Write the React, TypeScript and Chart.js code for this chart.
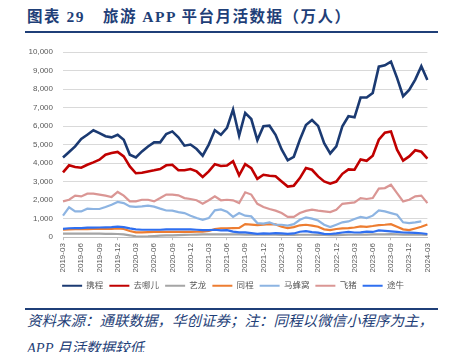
import React, { useEffect, useRef } from "react";
import { Chart, registerables } from "chart.js";

Chart.register(...registerables);

const months: string[] = [
  "2019-03","2019-04","2019-05","2019-06","2019-07","2019-08","2019-09","2019-10","2019-11","2019-12",
  "2020-01","2020-02","2020-03","2020-04","2020-05","2020-06","2020-07","2020-08","2020-09","2020-10","2020-11","2020-12",
  "2021-01","2021-02","2021-03","2021-04","2021-05","2021-06","2021-07","2021-08","2021-09","2021-10","2021-11","2021-12",
  "2022-01","2022-02","2022-03","2022-04","2022-05","2022-06","2022-07","2022-08","2022-09","2022-10","2022-11","2022-12",
  "2023-01","2023-02","2023-03","2023-04","2023-05","2023-06","2023-07","2023-08","2023-09","2023-10","2023-11","2023-12",
  "2024-01","2024-02","2024-03",
];

const ctrip = [4300,4600,4900,5300,5530,5770,5620,5450,5390,5530,5260,4450,4300,4630,4900,5120,5120,5570,5710,5390,4940,5000,4760,4400,5000,5770,5530,5900,6890,5480,6710,6380,5240,5990,6020,5530,4740,4150,4340,5260,6060,6330,6010,5080,4520,4900,5990,6530,6470,7540,7540,7790,9210,9280,9480,8600,7610,7950,8510,9230,8490];
const qunar = [3500,3880,3790,3750,3910,4040,4180,4450,4540,4600,4360,3820,3450,3480,3550,3610,3680,3880,3910,3610,3610,3680,3550,3250,3550,3940,3840,3870,4100,3340,3940,3730,3150,3370,3320,3290,3010,2730,2780,3190,3730,3640,3280,3010,2890,3000,3420,3660,3640,4200,4120,4400,5260,5640,5710,4720,4130,4360,4690,4610,4240];
const elong = [190,190,190,190,190,190,190,180,180,170,150,100,40,30,40,60,80,90,100,110,120,130,140,150,150,150,150,150,150,150,140,140,130,130,130,130,120,120,120,130,130,130,120,120,110,110,120,130,130,140,140,150,150,150,160,150,140,140,130,130,120];
const tongcheng = [400,420,430,440,430,450,460,450,440,470,440,330,260,260,270,280,280,290,280,280,280,280,290,300,330,430,480,480,490,500,700,680,650,670,700,690,560,490,540,640,670,620,560,420,380,440,470,490,520,580,560,600,650,670,700,560,420,380,470,560,680];
const mafengwo = [1160,1610,1390,1390,1540,1520,1520,1630,1750,1900,1840,1660,1630,1660,1700,1650,1540,1440,1430,1350,1300,1160,1030,940,1030,1450,1500,1370,1090,1300,1160,1120,760,730,800,670,670,620,700,940,1070,1000,900,670,540,670,800,850,980,1090,1030,1160,1440,1390,1300,1210,800,760,800,850,null];
const fliggy = [1930,2020,2240,2200,2350,2350,2300,2240,2170,2440,2240,1930,1930,2020,2020,1930,2110,2300,2300,2260,2110,2060,1990,1800,1990,2200,1990,2020,1990,1840,2420,2300,1800,1630,1520,1430,1300,1090,1090,1300,1420,1480,1430,1390,1350,1480,1800,1840,1880,2110,2060,2110,2620,2650,2830,2380,1930,2020,2200,2240,1840];
const tuniu = [450,480,490,490,510,510,520,530,540,570,540,470,420,400,400,400,400,420,420,420,420,420,400,380,380,400,370,380,300,260,260,220,180,200,190,220,200,180,200,290,320,270,240,180,170,200,250,280,250,260,300,280,360,340,310,280,250,240,230,210,170];

const seriesNames = ["携程", "去哪儿", "艺龙", "同程", "马蜂窝", "飞猪", "途牛"];
const seriesColors = ["#1B3A72", "#C00000", "#A5A5A5", "#ED7D31", "#8DB4E2", "#DA9694", "#2F6FF0"];
const seriesData = [ctrip, qunar, elong, tongcheng, mafengwo, fliggy, tuniu];
const yTicks = [0, 1000, 2000, 3000, 4000, 5000, 6000, 7000, 8000, 9000, 10000];

const NAVY = "#1F3F78";
const FONT = "'Liberation Sans', 'Noto Sans CJK SC', sans-serif";

function ChartCanvas() {
  const ref = useRef<HTMLCanvasElement | null>(null);
  useEffect(() => {
    if (!ref.current) return;
    const chart = new Chart(ref.current, {
      type: "line",
      data: {
        labels: months,
        datasets: seriesData.map((d, i) => ({
          label: seriesNames[i],
          data: d,
          borderColor: seriesColors[i],
          backgroundColor: seriesColors[i],
          borderWidth: i < 2 ? 2.6 : 2.2,
          pointRadius: 0,
          tension: 0,
          fill: false,
          order: 6 - i,
        })),
      },
      options: {
        animation: false,
        responsive: false,
        maintainAspectRatio: false,
        layout: { padding: { left: 26, right: 0, top: 16, bottom: 0 } },
        plugins: {
          tooltip: { enabled: false },
          legend: {
            position: "bottom",
            labels: {
              boxWidth: 20,
              boxHeight: 2,
              padding: 6,
              color: "#595959",
              font: { size: 8.5, family: FONT },
              generateLabels: (c: any) => {
                const items = Chart.defaults.plugins.legend.labels.generateLabels(c);
                items.sort((a: any, b: any) => a.datasetIndex - b.datasetIndex);
                return items.map((it: any) => ({ ...it, lineWidth: 0, fillStyle: it.strokeStyle }));
              },
            },
          },
        },
        scales: {
          x: {
            type: "category",
            offset: false,
            grid: {
              drawOnChartArea: false,
              drawTicks: true,
              tickLength: 3,
              color: (ctx: any) => (ctx.index % 3 === 0 ? "#BFBFBF" : "rgba(0,0,0,0)"),
            },
            border: { display: true, color: "#BFBFBF" },
            ticks: {
              autoSkip: false,
              maxRotation: 90,
              minRotation: 90,
              padding: 3,
              color: "#595959",
              font: { size: 8, family: FONT },
              callback: (_v: any, idx: number) => (idx % 3 === 0 ? months[idx] : null),
            },
          },
          y: {
            min: 0,
            max: 10000,
            afterFit: (s: any) => { s.width = 37; },
            afterBuildTicks: (s: any) => { s.ticks = yTicks.map((v) => ({ value: v })); },
            grid: { color: "#D9D9D9", drawTicks: false, lineWidth: 1 },
            border: { display: false },
            ticks: {
              padding: 10,
              color: "#595959",
              font: { size: 8, family: FONT },
              callback: (v: any) => Number(v).toLocaleString("en-US"),
            },
          },
        },
      },
    });
    return () => chart.destroy();
  }, []);
  return <canvas ref={ref} width={440} height={264} style={{ position: "absolute", left: 0, top: 36, width: 440, height: 264 }} />;
}

export default function App() {
  return (
    <div style={{ position: "absolute", left: 0, top: 0, width: 451, height: 352, overflow: "hidden", background: "#fff" }}>
      <div style={{ position: "absolute", left: 27, top: 7, whiteSpace: "nowrap", fontFamily: "'Liberation Serif', 'Noto Sans CJK SC', serif", fontWeight: "bold", fontSize: 15.5, letterSpacing: 1.5, color: NAVY, lineHeight: "20px" }}>
        图表 29<span style={{ display: "inline-block", width: 18 }} />旅游 APP 平台月活数据（万人）
      </div>
      <div style={{ position: "absolute", left: 25, top: 31, width: 413, height: 2, background: NAVY }} />
      <ChartCanvas />
      <div style={{ position: "absolute", left: 25, top: 308, width: 413, height: 2, background: NAVY }} />
      <div style={{ position: "absolute", left: 27, top: 308, whiteSpace: "nowrap", fontFamily: "'Liberation Serif', 'Noto Sans CJK SC', serif", fontStyle: "italic", fontSize: 14.5, lineHeight: "27px", color: NAVY }}>
        <div>资料来源：通联数据，华创证券；注：同程以微信小程序为主，</div>
        <div>APP 月活数据较低</div>
      </div>
    </div>
  );
}
